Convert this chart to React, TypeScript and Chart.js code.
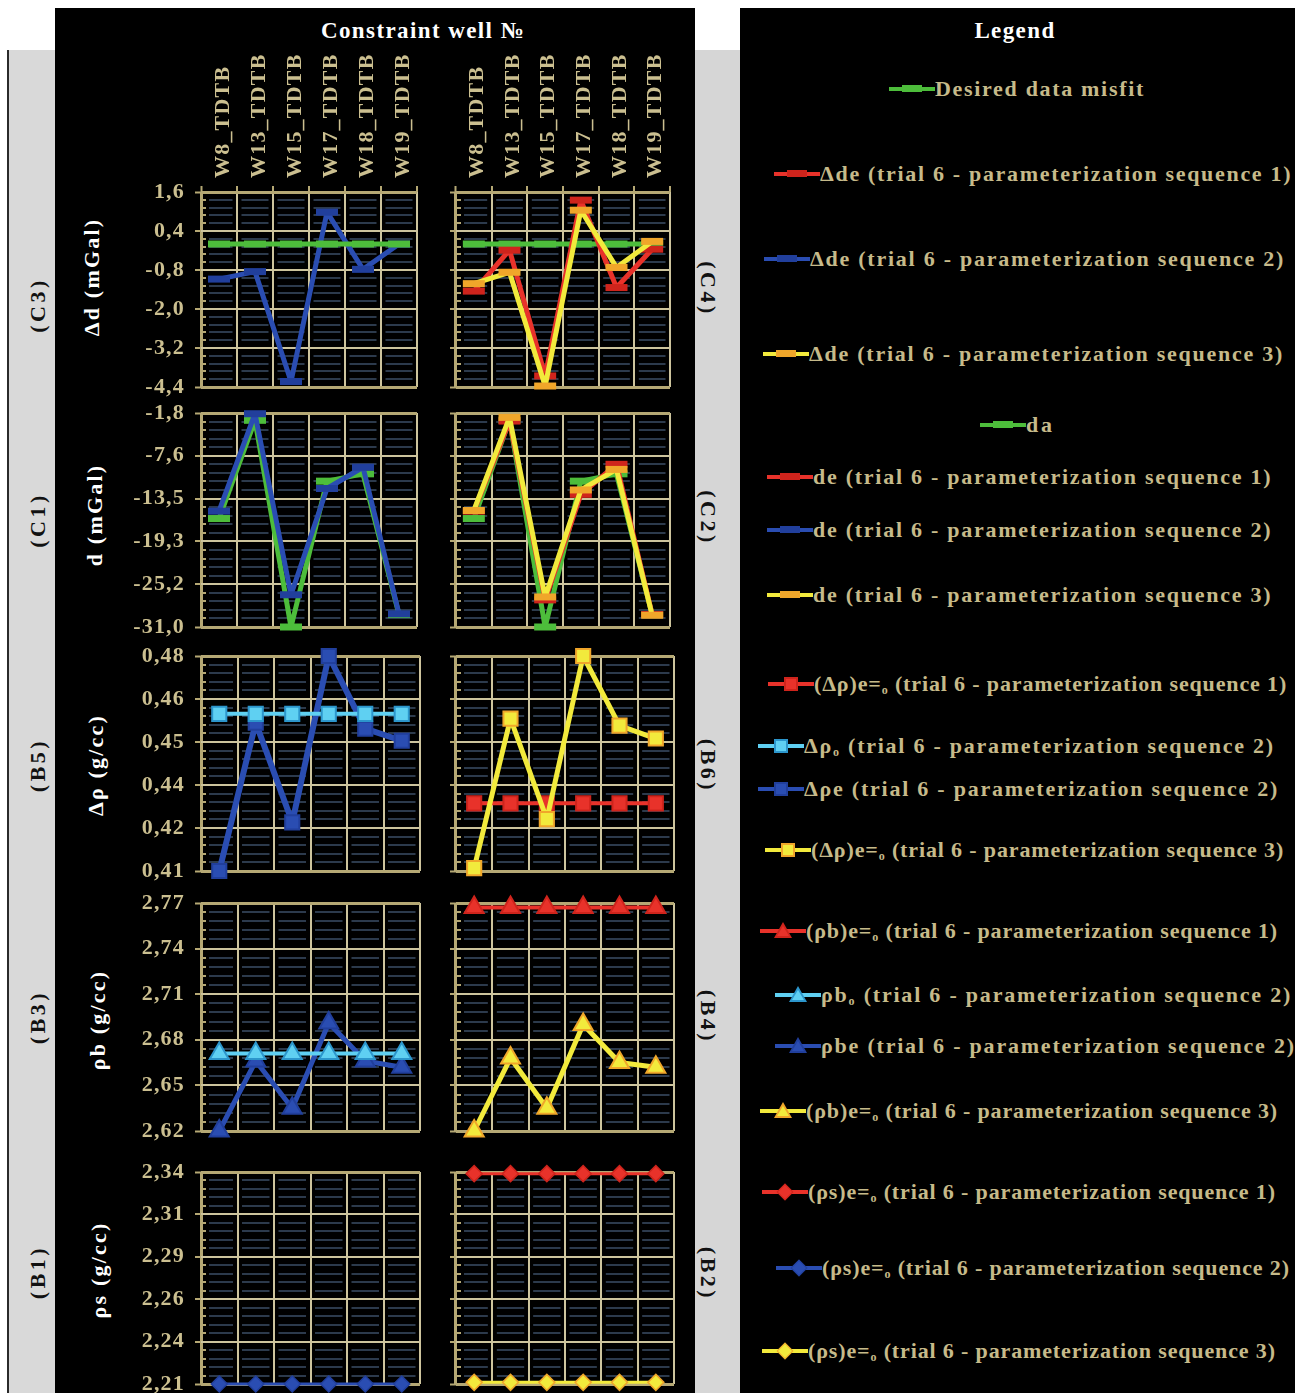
import React, { useEffect, useLayoutEffect, useRef } from "react";
import { Chart, registerables } from "chart.js";

Chart.register(...registerables);

const SERIF = "'Liberation Serif', 'Times New Roman', Times, serif";

// ---------------- categories ----------------
const wells = ["W8_TDTB", "W13_TDTB", "W15_TDTB", "W17_TDTB", "W18_TDTB", "W19_TDTB"];

// ---------------- row 1 : Δd (mGal) ----------------
const misfitDesired = [0, 0, 0, 0, 0, 0];
const deltaDeSeq1 = [-1.45, -0.19, -4.06, 1.35, -1.34, -0.16];
const deltaDeSeq2 = [-1.08, -0.85, -4.23, 0.98, -0.78, 0.0];
const deltaDeSeq3 = [-1.22, -0.87, -4.37, 1.04, -0.72, 0.08];
const deltaDTicks = ["1,6", "0,4", "-0,8", "-2,0", "-3,2", "-4,4"];

// ---------------- row 2 : d (mGal) ----------------
const daObserved = [-16.2, -2.8, -31.0, -11.1, -10.1, -29.3];
const deSeq1 = [-15.2, -2.9, -27.3, -12.9, -8.8, -29.3];
const deSeq2 = [-15.2, -1.9, -26.6, -12.1, -9.2, -29.2];
const deSeq3 = [-15.1, -2.4, -26.9, -12.3, -9.5, -29.4];
const dTicks = ["-1,8", "-7,6", "-13,5", "-19,3", "-25,2", "-31,0"];

// ---------------- row 3 : Δρ (g/cc) ----------------
const dRho0Seq2 = [0.4597, 0.4597, 0.4597, 0.4597, 0.4597, 0.4597];
const dRhoESeq2 = [0.41, 0.4569, 0.4254, 0.478, 0.455, 0.4512];
const dRhoESeq1 = [0.4314, 0.4314, 0.4314, 0.4314, 0.4314, 0.4314];
const dRhoESeq3 = [0.4109, 0.4582, 0.4264, 0.478, 0.456, 0.4519];
const dRhoTicks = ["0,48", "0,46", "0,45", "0,44", "0,42", "0,41"];

// ---------------- row 4 : ρb (g/cc) ----------------
const rhoB0Seq2 = [2.671, 2.671, 2.671, 2.671, 2.671, 2.671];
const rhoBESeq2 = [2.62, 2.666, 2.635, 2.691, 2.666, 2.662];
const rhoBESeq1 = [2.767, 2.767, 2.767, 2.767, 2.767, 2.767];
const rhoBESeq3 = [2.62, 2.668, 2.635, 2.69, 2.665, 2.662];
const rhoBTicks = ["2,77", "2,74", "2,71", "2,68", "2,65", "2,62"];

// ---------------- row 5 : ρs (g/cc) ----------------
const rhoSESeq1 = [2.339, 2.339, 2.339, 2.339, 2.339, 2.339];
const rhoSESeq2 = [2.21, 2.21, 2.21, 2.21, 2.21, 2.21];
const rhoSESeq3 = [2.211, 2.211, 2.211, 2.211, 2.211, 2.211];
const rhoSTicks = ["2,34", "2,31", "2,29", "2,26", "2,24", "2,21"];

// ---------------- colours ----------------
const KHAKI = "#cbbf90";
const EDGE = "#b5a874";
const MAJOR = "#cdc49d";
const MINOR = "#2c3a4c";
const GREEN = "#4dbd3b";
const BLUE = "#2a4db2";
const BLUE_D = "#213f9c";
const RED = "#e8322a";
const RED_D = "#cf241c";
const YELLOW = "#f2ea3c";
const ORANGE = "#f0a62a";
const LBLUE = "#5fd0f2";
const LBLUE_D = "#2c96cc";

type Series = {
  data: number[];
  color: string;
  width: number;
  style: string;
  radius: number;
  fill: string;
  stroke: string;
  sw: number;
};

const dashS = (data: number[], color: string, marker: string): Series => ({
  data, color, width: 5, style: "line", radius: 11, fill: marker, stroke: marker, sw: 7,
});
const sqS = (data: number[], color: string, fill: string, stroke: string, width: number): Series => ({
  data, color, width, style: "rect", radius: 10, fill, stroke, sw: 2,
});
const triS = (data: number[], color: string, fill: string, stroke: string, width: number): Series => ({
  data, color, width, style: "triangle", radius: 11, fill, stroke, sw: 2,
});
const diaS = (data: number[], color: string, fill: string, stroke: string): Series => ({
  data, color, width: 3, style: "rectRot", radius: 8, fill, stroke, sw: 1.5,
});

type Panel = {
  left: number;
  top: number;
  width: number;
  height: number;
  yWidth: number;
  padTop: number;
  padBottom: number;
  padRight: number;
  xTop: boolean;
  xHeight: number;
  labelOffset: number;
  min: number;
  max: number;
  labels: string[] | null;
  series: Series[];
};

const LEFT = { left: 100, width: 335, yWidth: 101, padRight: 15, labelOffset: 31 };
const RIGHT = { left: 436, width: 252, yWidth: 20, padRight: 14, labelOffset: 30 };

const ROWS = [
  { top: 40, height: 371, padTop: 0, padBottom: 24, xTop: true, xHeight: 152 },
  { top: 389, height: 262, padTop: 24, padBottom: 24, xTop: false, xHeight: 0 },
  { top: 632, height: 263, padTop: 24, padBottom: 24, xTop: false, xHeight: 0 },
  { top: 879, height: 276, padTop: 24, padBottom: 24, xTop: false, xHeight: 0 },
  { top: 1148, height: 260, padTop: 24, padBottom: 24, xTop: false, xHeight: 0 },
];

const panel = (col: typeof LEFT, row: number, min: number, max: number, labels: string[] | null, series: Series[]): Panel => ({
  ...col,
  ...ROWS[row],
  min,
  max,
  labels,
  series,
});

const PANELS: Panel[] = [
  panel(LEFT, 0, -4.4, 1.6, deltaDTicks, [dashS(misfitDesired, GREEN, GREEN), dashS(deltaDeSeq2, BLUE, BLUE_D)]),
  panel(RIGHT, 0, -4.4, 1.6, null, [
    dashS(deltaDeSeq3, YELLOW, ORANGE),
    dashS(deltaDeSeq1, RED, RED_D),
    dashS(misfitDesired, GREEN, GREEN),
  ]),
  panel(LEFT, 1, -31.0, -1.8, dTicks, [dashS(deSeq2, BLUE, BLUE_D), dashS(daObserved, GREEN, GREEN)]),
  panel(RIGHT, 1, -31.0, -1.8, null, [
    dashS(deSeq3, YELLOW, ORANGE),
    dashS(deSeq1, RED, RED_D),
    dashS(daObserved, GREEN, GREEN),
  ]),
  panel(LEFT, 2, 0.41, 0.478, dRhoTicks, [
    sqS(dRho0Seq2, LBLUE, LBLUE, LBLUE_D, 4),
    sqS(dRhoESeq2, BLUE, BLUE, BLUE_D, 6),
  ]),
  panel(RIGHT, 2, 0.41, 0.478, null, [
    sqS(dRhoESeq3, YELLOW, YELLOW, ORANGE, 5),
    sqS(dRhoESeq1, RED, RED, RED_D, 4),
  ]),
  panel(LEFT, 3, 2.62, 2.77, rhoBTicks, [
    triS(rhoB0Seq2, LBLUE, LBLUE, LBLUE_D, 4),
    triS(rhoBESeq2, BLUE, BLUE, BLUE_D, 5),
  ]),
  panel(RIGHT, 3, 2.62, 2.77, null, [
    triS(rhoBESeq3, YELLOW, YELLOW, ORANGE, 5),
    triS(rhoBESeq1, RED, RED, RED_D, 4),
  ]),
  panel(LEFT, 4, 2.21, 2.34, rhoSTicks, [diaS(rhoSESeq2, BLUE, BLUE, BLUE_D)]),
  panel(RIGHT, 4, 2.21, 2.34, null, [
    diaS(rhoSESeq1, RED, RED, RED_D),
    diaS(rhoSESeq3, YELLOW, YELLOW, ORANGE),
  ]),
];

const N_SUB = 25;

const spacingPlugin = {
  id: "letterSpacing",
  beforeUpdate(chart: any) {
    chart.ctx.letterSpacing = "1.2px";
  },
  beforeDraw(chart: any) {
    chart.ctx.letterSpacing = "1.2px";
  },
};

// minor grid line: short khaki tick at the left border, then one dash per category
function minorDash(c: any): number[] {
  if (c.type !== "tick" || c.index % 5 === 0) return [];
  const a = c.chart.chartArea;
  if (!a) return [];
  const w = (a.right - a.left) / wells.length;
  const d = [5, 3, w - 12.5, 9];
  for (let k = 1; k < wells.length; k++) d.push(w - 9, 9);
  return d;
}

function gridColor(c: any): any {
  const i = c.index;
  if (i === 0 || i === N_SUB) return EDGE;
  if (i % 5 === 0) return MAJOR;
  const a = c.chart.chartArea;
  if (!a) return MINOR;
  const g = c.chart.ctx.createLinearGradient(a.left, 0, a.left + 10, 0);
  g.addColorStop(0, EDGE);
  g.addColorStop(0.5, EDGE);
  g.addColorStop(0.5, MINOR);
  g.addColorStop(1, MINOR);
  return g;
}

function buildConfig(p: Panel): any {
  const lastX = wells.length;
  return {
    type: "line",
    data: {
      labels: wells,
      datasets: p.series.map((s) => ({
        data: s.data,
        borderColor: s.color,
        borderWidth: s.width,
        borderJoinStyle: "round",
        pointStyle: s.style,
        pointRadius: s.radius,
        pointHoverRadius: s.radius,
        pointBackgroundColor: s.fill,
        pointBorderColor: s.stroke,
        pointBorderWidth: s.sw,
        pointHoverBorderWidth: s.sw,
        clip: false,
        tension: 0,
        fill: false,
      })),
    },
    plugins: [spacingPlugin],
    options: {
      responsive: false,
      animation: false,
      events: [],
      devicePixelRatio: 1,
      layout: { padding: { top: p.padTop, bottom: p.padBottom, left: 0, right: p.padRight } },
      plugins: { legend: { display: false }, tooltip: { enabled: false } },
      scales: {
        x: {
          type: "category",
          position: p.xTop ? "top" : "bottom",
          offset: true,
          grid: {
            offset: true,
            color: (c: any) => (c.index === 0 || c.index === lastX ? EDGE : MAJOR),
            lineWidth: (c: any) => (c.index === 0 || c.index === lastX ? 3 : 2),
            drawTicks: p.xTop,
            tickLength: 6,
            tickColor: EDGE,
            tickWidth: 2,
          },
          border: { display: false },
          ticks: {
            display: p.xTop,
            minRotation: 90,
            maxRotation: 90,
            autoSkip: false,
            labelOffset: p.labelOffset,
            color: KHAKI,
            font: { family: SERIF, size: 22, weight: "bold" },
            padding: 8,
          },
          afterFit: (s: any) => {
            s.height = p.xHeight;
          },
        },
        y: {
          type: "linear",
          min: p.min,
          max: p.max,
          afterBuildTicks: (s: any) => {
            const t: { value: number }[] = [];
            for (let i = 0; i <= N_SUB; i++) t.push({ value: p.min + ((p.max - p.min) * i) / N_SUB });
            s.ticks = t;
          },
          ticks: {
            display: !!p.labels,
            autoSkip: false,
            color: KHAKI,
            font: { family: SERIF, size: 22, weight: "bold" },
            padding: 10,
            callback: (_v: any, i: number) => (i % 5 === 0 && p.labels ? p.labels[5 - i / 5] : ""),
          },
          grid: {
            color: gridColor,
            lineWidth: (c: any) => (c.index === 0 || c.index === N_SUB ? 3 : 2),
            drawTicks: true,
            tickLength: 6,
            tickWidth: 2,
            tickColor: (c: any) => (c.index % 5 === 0 ? EDGE : "rgba(0,0,0,0)"),
          },
          border: {
            display: false,
            dash: minorDash,
            dashOffset: 0,
          },
          afterFit: (s: any) => {
            s.width = p.yWidth;
          },
        },
      },
    },
  };
}

function ChartBox({ p }: { p: Panel }) {
  const ref = useRef<HTMLCanvasElement>(null);
  useEffect(() => {
    const chart = new Chart(ref.current as HTMLCanvasElement, buildConfig(p));
    return () => chart.destroy();
  }, []);
  return (
    <canvas
      ref={ref}
      width={p.width}
      height={p.height}
      style={{ position: "absolute", left: p.left, top: p.top, width: p.width, height: p.height }}
    />
  );
}

// ---------------- legend ----------------
type LegendItem = { x: number; y: number; end: number; kind: string; line: string; fill: string; stroke: string; text: string };

const legendItems: LegendItem[] = [
  { x: 889, y: 89, end: 1145, kind: "dash", line: GREEN, fill: GREEN, stroke: GREEN, text: "Desired data misfit" },
  { x: 774, y: 174, end: 1292, kind: "dash", line: RED, fill: RED, stroke: RED_D, text: "Δde (trial 6 - parameterization sequence 1)" },
  { x: 764, y: 259, end: 1285, kind: "dash", line: BLUE, fill: BLUE, stroke: BLUE_D, text: "Δde (trial 6 - parameterization sequence 2)" },
  { x: 763, y: 354, end: 1284, kind: "dash", line: YELLOW, fill: ORANGE, stroke: ORANGE, text: "Δde (trial 6 - parameterization sequence 3)" },
  { x: 980, y: 425, end: 1055, kind: "dash", line: GREEN, fill: GREEN, stroke: GREEN, text: "da" },
  { x: 767, y: 477, end: 1272, kind: "dash", line: RED, fill: RED, stroke: RED_D, text: "de (trial 6 - parameterization sequence 1)" },
  { x: 767, y: 530, end: 1272, kind: "dash", line: BLUE, fill: BLUE, stroke: BLUE_D, text: "de (trial 6 - parameterization sequence 2)" },
  { x: 767, y: 595, end: 1272, kind: "dash", line: YELLOW, fill: ORANGE, stroke: ORANGE, text: "de (trial 6 - parameterization sequence 3)" },
  { x: 768, y: 684, end: 1287, kind: "square", line: RED, fill: RED, stroke: RED_D, text: "(Δρ)e=|o| (trial 6 - parameterization sequence 1)" },
  { x: 758, y: 746, end: 1275, kind: "square", line: LBLUE, fill: LBLUE, stroke: LBLUE_D, text: "Δρ|o| (trial 6 - parameterization sequence 2)" },
  { x: 758, y: 789, end: 1279, kind: "square", line: BLUE, fill: BLUE, stroke: BLUE_D, text: "Δρe (trial 6 - parameterization sequence 2)" },
  { x: 765, y: 850, end: 1284, kind: "square", line: YELLOW, fill: YELLOW, stroke: ORANGE, text: "(Δρ)e=|o| (trial 6 - parameterization sequence 3)" },
  { x: 760, y: 931, end: 1278, kind: "triangle", line: RED, fill: RED, stroke: RED_D, text: "(ρb)e=|o| (trial 6 - parameterization sequence 1)" },
  { x: 775, y: 995, end: 1292, kind: "triangle", line: LBLUE, fill: LBLUE, stroke: LBLUE_D, text: "ρb|o| (trial 6 - parameterization sequence 2)" },
  { x: 775, y: 1046, end: 1296, kind: "triangle", line: BLUE, fill: BLUE, stroke: BLUE_D, text: "ρbe (trial 6 - parameterization sequence 2)" },
  { x: 760, y: 1111, end: 1278, kind: "triangle", line: YELLOW, fill: YELLOW, stroke: ORANGE, text: "(ρb)e=|o| (trial 6 - parameterization sequence 3)" },
  { x: 762, y: 1192, end: 1276, kind: "diamond", line: RED, fill: RED, stroke: RED_D, text: "(ρs)e=|o| (trial 6 - parameterization sequence 1)" },
  { x: 776, y: 1268, end: 1290, kind: "diamond", line: BLUE, fill: BLUE, stroke: BLUE_D, text: "(ρs)e=|o| (trial 6 - parameterization sequence 2)" },
  { x: 762, y: 1351, end: 1276, kind: "diamond", line: YELLOW, fill: YELLOW, stroke: ORANGE, text: "(ρs)e=|o| (trial 6 - parameterization sequence 3)" },
];

const SYM_W = 46;

function LegendSymbol({ it }: { it: LegendItem }) {
  let marker: any = null;
  if (it.kind === "dash") {
    marker = <div style={{ position: "absolute", left: 13, top: 6, width: 20, height: 7, background: it.stroke }} />;
  } else if (it.kind === "square") {
    marker = (
      <div
        style={{
          position: "absolute", left: 16, top: 3, width: 14, height: 14, boxSizing: "border-box",
          background: it.fill, border: `2px solid ${it.stroke}`,
        }}
      />
    );
  } else if (it.kind === "triangle") {
    marker = (
      <div style={{ position: "absolute", left: 14, top: 1, width: 18, height: 16, background: it.stroke, clipPath: "polygon(50% 0, 100% 100%, 0 100%)" }}>
        <div style={{ position: "absolute", left: 3, top: 4, width: 12, height: 10, background: it.fill, clipPath: "polygon(50% 0, 100% 100%, 0 100%)" }} />
      </div>
    );
  } else {
    marker = (
      <div
        style={{
          position: "absolute", left: 17, top: 4, width: 12, height: 12, boxSizing: "border-box",
          background: it.fill, border: `1px solid ${it.stroke}`, transform: "rotate(45deg)",
        }}
      />
    );
  }
  return (
    <div style={{ position: "relative", width: SYM_W, height: 20, flex: "0 0 auto" }}>
      <div style={{ position: "absolute", left: 0, right: 0, top: 8, height: 4, background: it.line }} />
      {marker}
    </div>
  );
}

function LegendRow({ it }: { it: LegendItem }) {
  const ref = useRef<HTMLSpanElement>(null);
  useLayoutEffect(() => {
    const el = ref.current;
    if (!el) return;
    el.style.letterSpacing = "0px";
    const w = el.getBoundingClientRect().width;
    const n = (el.textContent || "").length;
    const target = it.end - (it.x + SYM_W);
    const sp = Math.max(-1, (target - w) / n);
    el.style.letterSpacing = sp.toFixed(2) + "px";
  }, []);
  const parts = it.text.split("|");
  return (
    <div
      style={{
        position: "absolute", left: it.x - 740, top: it.y - 8 - 12, height: 24, display: "flex", alignItems: "center",
        color: "#c6ba8a", fontSize: 22, fontWeight: "bold", whiteSpace: "nowrap",
      }}
    >
      <LegendSymbol it={it} />
      <span ref={ref} style={{ whiteSpace: "nowrap" }}>
        {parts.map((s, i) =>
          i % 2 === 1 ? (
            <span key={i} style={{ fontSize: 12, position: "relative", top: 3 }}>
              {s}
            </span>
          ) : (
            <span key={i}>{s}</span>
          )
        )}
      </span>
    </div>
  );
}

function Rot({ x, y, deg, text, color, size, spacing }: { x: number; y: number; deg: number; text: string; color: string; size: number; spacing: number }) {
  return (
    <div
      style={{
        position: "absolute", left: x, top: y, transform: `translate(-50%, -50%) rotate(${deg}deg)`,
        whiteSpace: "nowrap", color, fontSize: size, fontWeight: "bold", lineHeight: 1, letterSpacing: spacing,
      }}
    >
      {text}
    </div>
  );
}

const leftTags = [
  { t: "(C3)", y: 305 },
  { t: "(C1)", y: 520 },
  { t: "(B5)", y: 765 },
  { t: "(B3)", y: 1017 },
  { t: "(B1)", y: 1272 },
];
const rightTags = [
  { t: "(C4)", y: 289 },
  { t: "(C2)", y: 518 },
  { t: "(B6)", y: 766 },
  { t: "(B4)", y: 1017 },
  { t: "(B2)", y: 1274 },
];
const axisTitles = [
  { t: "Δd (mGal)", x: 92, y: 277 },
  { t: "d (mGal)", x: 95, y: 515 },
  { t: "Δρ (g/cc)", x: 96, y: 765 },
  { t: "ρb (g/cc)", x: 98, y: 1020 },
  { t: "ρs (g/cc)", x: 99, y: 1270 },
];

export default function App() {
  useEffect(() => {
    Chart.defaults.font.family = SERIF;
  }, []);
  return (
    <div
      style={{
        position: "absolute", left: 0, top: 0, width: 1297, height: 1393, background: "#fff",
        overflow: "hidden", fontFamily: SERIF,
      }}
    >
      <div style={{ position: "absolute", left: 7, top: 50, width: 48, height: 1343, background: "#d9d9d9", borderLeft: "2px solid #2a2a2a", boxSizing: "border-box" }} />
      <div style={{ position: "absolute", left: 55, top: 8, width: 640, height: 1385, background: "#000" }} />
      <div style={{ position: "absolute", left: 695, top: 50, width: 45, height: 1343, background: "#d6d6d6" }} />
      <div style={{ position: "absolute", left: 740, top: 8, width: 555, height: 1385, background: "#000", overflow: "hidden" }}>
        {legendItems.map((it, i) => (
          <LegendRow key={i} it={it} />
        ))}
      </div>

      <div style={{ position: "absolute", left: 423, top: 31, transform: "translate(-50%, -50%)", color: "#fff", fontWeight: "bold", fontSize: 23, letterSpacing: 1.4, whiteSpace: "nowrap" }}>
        Constraint well №
      </div>
      <div style={{ position: "absolute", left: 1015, top: 31, transform: "translate(-50%, -50%)", color: "#fff", fontWeight: "bold", fontSize: 23, letterSpacing: 1.4, whiteSpace: "nowrap" }}>
        Legend
      </div>

      {leftTags.map((g, i) => (
        <Rot key={"l" + i} x={38} y={g.y} deg={-90} text={g.t} color="#111" size={22} spacing={3.5} />
      ))}
      {rightTags.map((g, i) => (
        <Rot key={"r" + i} x={708} y={g.y} deg={90} text={g.t} color="#111" size={22} spacing={3.5} />
      ))}
      {axisTitles.map((g, i) => (
        <Rot key={"a" + i} x={g.x} y={g.y} deg={-90} text={g.t} color="#fff" size={22} spacing={2.2} />
      ))}

      {PANELS.map((p, i) => (
        <ChartBox key={i} p={p} />
      ))}
    </div>
  );
}
